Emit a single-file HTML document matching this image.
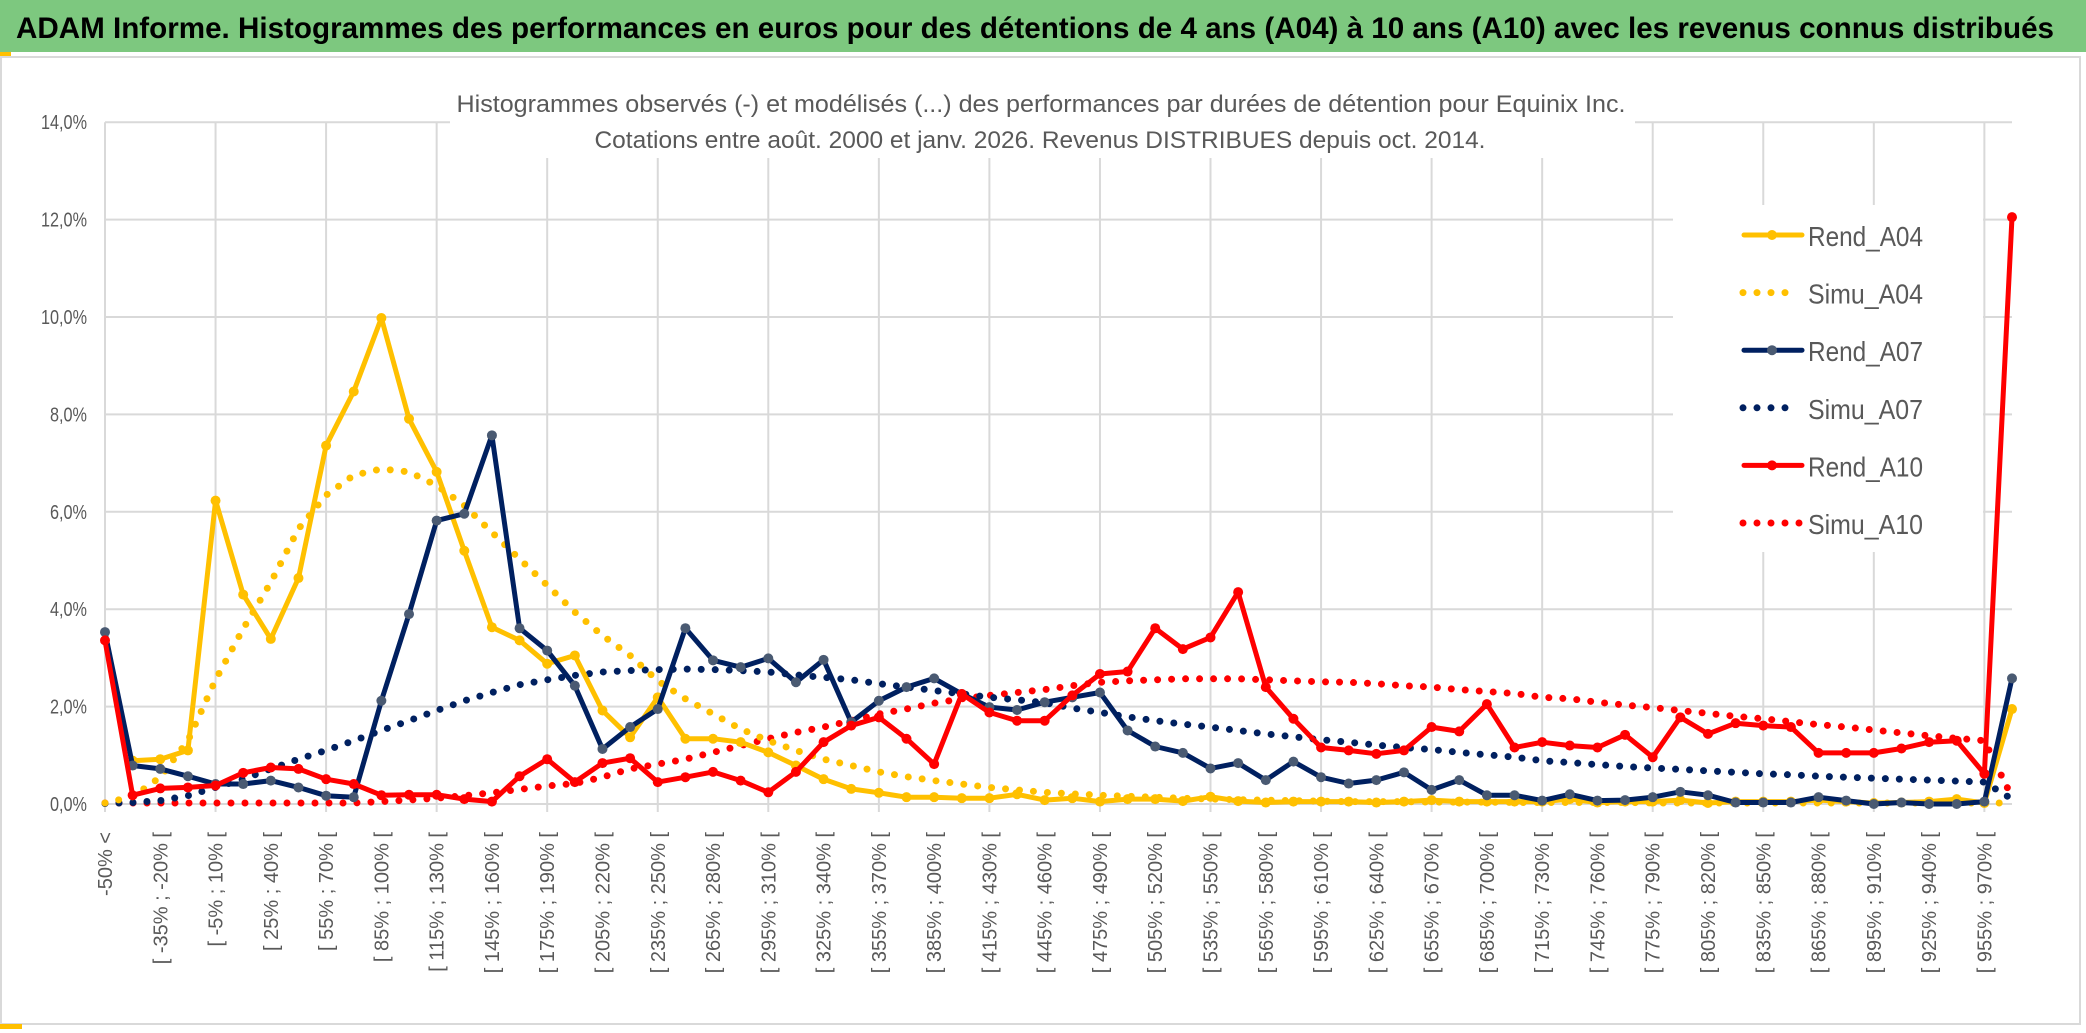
<!DOCTYPE html>
<html><head><meta charset="utf-8"><title>ADAM Informe - Equinix</title>
<style>
html,body{margin:0;padding:0;background:#fff;}
svg{display:block;}
text{font-family:"Liberation Sans",sans-serif;}
</style></head>
<body>
<svg id="chart" width="2086" height="1033" viewBox="0 0 2086 1033" xmlns="http://www.w3.org/2000/svg">
<rect x="0" y="0" width="2086" height="1033" fill="#ffffff"/>
<rect x="0" y="0" width="2086" height="52" fill="#7dc87f"/>
<text x="16" y="38" font-size="30" font-weight="bold" fill="#000" textLength="2038" lengthAdjust="spacingAndGlyphs">ADAM Informe. Histogrammes des performances en euros pour des détentions de 4 ans (A04) à 10 ans (A10) avec les revenus connus distribués</text>
<rect x="1" y="57" width="2079" height="967" fill="none" stroke="#d9d9d9" stroke-width="2"/>
<rect x="0" y="52" width="11" height="4" fill="#ffc000"/>
<rect x="0" y="1024" width="22" height="5" fill="#ffc000"/>
<g id="grid"></g>
<rect x="450" y="80" width="1185" height="78" fill="#fff"/>
<text x="1041" y="112" font-size="24" fill="#595959" text-anchor="middle" textLength="1169" lengthAdjust="spacingAndGlyphs">Histogrammes observés (-) et modélisés (...) des performances par durées de détention pour Equinix Inc.</text>
<text x="1040" y="148" font-size="24" fill="#595959" text-anchor="middle" textLength="891" lengthAdjust="spacingAndGlyphs">Cotations entre août. 2000 et janv. 2026. Revenus DISTRIBUES depuis oct. 2014.</text>
<g id="yaxis"></g>
<g id="xaxis"></g>
<g id="legend-bg-g"><rect x="1673" y="205" width="310" height="347" fill="#fff"/></g>
<g id="series"></g>
<g id="legend"></g>
</svg>
<script>
const rendA04 = [null,0.89,0.92,1.1,6.23,4.3,3.39,4.64,7.36,8.47,9.98,7.91,6.82,5.2,3.63,3.36,2.88,3.05,1.92,1.37,2.19,1.34,1.34,1.27,1.06,0.79,0.51,0.31,0.23,0.14,0.14,0.12,0.12,0.2,0.08,0.12,0.05,0.1,0.1,0.06,0.15,0.06,0.03,0.05,0.05,0.05,0.03,0.05,0.08,0.05,0.05,0.05,0.05,0.1,0.03,0.05,0.05,0.08,0.02,0.05,0.05,0.05,0.08,0.05,0.02,0.03,0.05,0.1,0.02,1.95];
const simuA04 = [0.02,0.15,0.55,1.3,2.55,3.6,4.55,5.65,6.34,6.75,6.88,6.82,6.54,6.13,5.58,5.03,4.49,3.94,3.46,3.05,2.53,2.16,1.85,1.54,1.3,1.1,0.92,0.79,0.66,0.56,0.48,0.41,0.34,0.29,0.24,0.21,0.18,0.16,0.14,0.12,0.1,0.09,0.08,0.07,0.06,0.05,0.05,0.05,0.04,0.04,0.04,0.03,0.03,0.03,0.03,0.03,0.02,0.02,0.02,0.02,0.02,0.02,0.02,0.02,0.02,0.02,0.02,0.02,0.02,0.02];
const rendA07 = [3.53,0.79,0.72,0.57,0.41,0.41,0.48,0.34,0.17,0.14,2.12,3.9,5.82,5.96,7.57,3.61,3.15,2.43,1.13,1.58,1.95,3.61,2.95,2.81,2.99,2.5,2.96,1.68,2.12,2.4,2.58,2.26,1.99,1.93,2.09,2.19,2.29,1.51,1.18,1.05,0.73,0.84,0.49,0.87,0.55,0.42,0.49,0.65,0.29,0.49,0.18,0.18,0.07,0.2,0.07,0.08,0.14,0.25,0.18,0.03,0.03,0.03,0.14,0.07,0.0,0.03,0.0,0.0,0.05,2.58];
const simuA07 = [0.01,0.03,0.07,0.17,0.34,0.51,0.72,0.92,1.1,1.3,1.51,1.71,1.92,2.12,2.29,2.45,2.55,2.64,2.71,2.74,2.76,2.77,2.76,2.74,2.71,2.65,2.6,2.55,2.47,2.4,2.33,2.26,2.19,2.14,2.08,1.97,1.88,1.79,1.71,1.64,1.58,1.51,1.44,1.38,1.32,1.27,1.21,1.16,1.12,1.06,1.01,0.96,0.89,0.85,0.81,0.77,0.74,0.71,0.68,0.65,0.62,0.6,0.57,0.55,0.53,0.51,0.49,0.47,0.45,0.1];
const rendA10 = [3.36,0.18,0.32,0.34,0.38,0.64,0.75,0.72,0.51,0.41,0.18,0.19,0.19,0.1,0.05,0.57,0.92,0.45,0.84,0.94,0.45,0.55,0.66,0.48,0.24,0.66,1.27,1.61,1.78,1.34,0.82,2.26,1.88,1.71,1.71,2.23,2.67,2.72,3.61,3.18,3.42,4.35,2.4,1.75,1.16,1.1,1.03,1.1,1.58,1.49,2.05,1.16,1.27,1.2,1.16,1.42,0.96,1.78,1.44,1.66,1.61,1.58,1.05,1.05,1.05,1.14,1.27,1.3,0.62,12.05];
const simuA10 = [0.02,0.02,0.02,0.02,0.02,0.02,0.02,0.02,0.02,0.02,0.05,0.08,0.12,0.17,0.23,0.3,0.37,0.42,0.55,0.72,0.82,0.92,1.06,1.2,1.34,1.47,1.58,1.71,1.85,1.95,2.07,2.16,2.23,2.29,2.35,2.43,2.5,2.53,2.55,2.57,2.57,2.57,2.55,2.53,2.51,2.5,2.47,2.43,2.4,2.35,2.31,2.27,2.19,2.16,2.09,2.03,1.98,1.92,1.86,1.8,1.75,1.69,1.63,1.58,1.52,1.46,1.4,1.35,1.3,0.14];
const yTicks = [0,2,4,6,8,10,12,14];
const seriesNames = ["Rend_A04","Simu_A04","Rend_A07","Simu_A07","Rend_A10","Simu_A10"];

const NS = "http://www.w3.org/2000/svg";
const N = 70;
const X0 = 105, X1 = 2012, Y0 = 804, PER = 48.7;
function xs(i){ return X0 + i*(X1-X0)/(N-1); }
function ys(v){ return Y0 - v*PER; }
function mk(tag, attrs, parent){ const e=document.createElementNS(NS,tag); for(const k in attrs) e.setAttribute(k,attrs[k]); parent.appendChild(e); return e; }

function catLabel(i){
  if(i===0) return "-50% <";
  const lo = -50 + 15*(i-1);
  return "[ " + lo + "% ; " + (lo+15) + "% [";
}

const grid = document.getElementById('grid');
yTicks.forEach(t=>{
  const l = mk('line',{x1:X0,x2:X1,y1:ys(t),y2:ys(t),stroke:'#d9d9d9','stroke-width':2},grid);
  
  
});
for(let i=0;i<N;i+=4){
  const l = mk('line',{x1:xs(i),x2:xs(i),y1:ys(14),y2:ys(0)+8,stroke:'#d9d9d9','stroke-width':2},grid);
  
  
}
const ya = document.getElementById('yaxis');
yTicks.forEach(t=>{
  const s = t.toFixed(1).replace('.',',')+'%';
  const tx = mk('text',{x:87,y:ys(t)+7,'font-size':20,fill:'#595959','text-anchor':'end',textLength:(s.length===4?37:46),lengthAdjust:'spacingAndGlyphs'},ya);
  tx.textContent = s;
  
  
});
const xa = document.getElementById('xaxis');
for(let i=0;i<N-1;i+=2){
  const x = xs(i)+7, y = 832;
  const tx = mk('text',{x:x,y:y,'font-size':20,fill:'#595959','text-anchor':'end',transform:'rotate(-90 '+x+' '+y+')'},xa);
  tx.textContent = catLabel(i);
  
  
}
const sg = document.getElementById('series');
function pathOf(arr){
  let d='', pen=false;
  arr.forEach((v,i)=>{ if(v===null){pen=false;return;} d += (pen?'L':'M')+xs(i).toFixed(1)+' '+ys(v).toFixed(1)+' '; pen=true; });
  return d;
}
function dotted(arr,color,name){
  const p = mk('path',{d:pathOf(arr),fill:'none',stroke:color,'stroke-width':7,'stroke-linecap':'round','stroke-dasharray':'0 14'},sg);
  
  
}
function solid(arr,color,mcolor,name){
  const g = mk('g',{},sg);
  
  
  const p = mk('path',{d:pathOf(arr),fill:'none',stroke:color,'stroke-width':5,'stroke-linejoin':'round'},g);
  
  
  arr.forEach((v,i)=>{
    if(v===null) return;
    const c = mk('circle',{cx:xs(i),cy:ys(v),r:5,fill:mcolor},g);
    
    
  });
}
dotted(simuA10,'#ff0000','simu-a10-series');
dotted(simuA07,'#002060','simu-a07-series');
dotted(simuA04,'#ffc000','simu-a04-series');
solid(rendA04,'#ffc000','#ffc000','rend-a04-series');
solid(rendA07,'#002060','#4a5a72','rend-a07-series');
solid(rendA10,'#ff0000','#ff0000','rend-a10-series');

const lg = document.getElementById('legend');
const legColors = ['#ffc000','#ffc000','#002060','#002060','#ff0000','#ff0000'];
const legMarker = ['#ffc000',null,'#4a5a72',null,'#ff0000',null];
seriesNames.forEach((nm,k)=>{
  const y = 235 + k*57.6;
  const g = mk('g',{},lg);
  
  
  if(k%2===0){
    mk('line',{x1:1744,x2:1802,y1:y,y2:y,stroke:legColors[k],'stroke-width':5,'stroke-linecap':'round'},g);
    mk('circle',{cx:1772,cy:y,r:5,fill:legMarker[k]},g);
  } else {
    mk('line',{x1:1743,x2:k===5?1801:1789,y1:y,y2:y,stroke:legColors[k],'stroke-width':7,'stroke-linecap':'round','stroke-dasharray':'0 14'},g);
  }
  const t = mk('text',{x:1808,y:y+11,'font-size':28,fill:'#595959',textLength:115,lengthAdjust:'spacingAndGlyphs'},g);
  t.textContent = nm;
});
</script>
</body></html>
